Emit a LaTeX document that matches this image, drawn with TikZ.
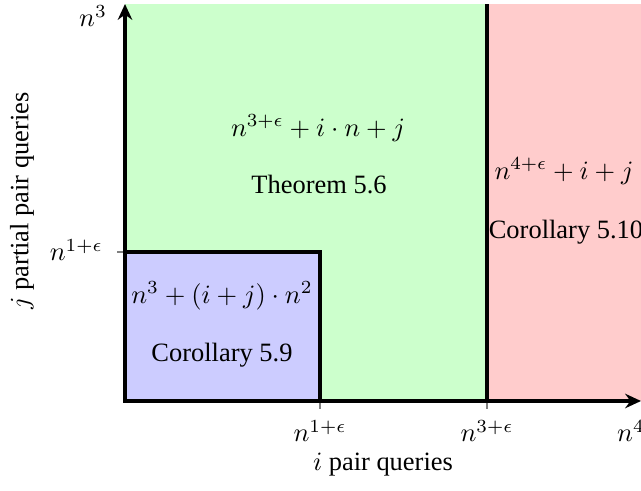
\documentclass[tikz,border=0pt]{standalone}
\usepackage{fontspec}
\setmainfont{Liberation Serif}
\usetikzlibrary{arrows.meta, positioning}

\begin{document}
\begin{tikzpicture}[
  x=0.378pt, y=0.378pt,
  axis/.style={line width=1.3pt, -{Stealth[length=6pt, width=5.5pt, inset=2pt]}},
  border/.style={line width=1.3pt},
  tickmark/.style={draw=gray, line width=0.4pt},
  reglabel/.style={inner sep=1pt, font=\rmfamily}
]
  \useasboundingbox (0,0) rectangle (641,491);
  \clip (0,0) rectangle (641,491);

  % corner points of the regions
  \coordinate (O) at (125,90);
  \coordinate (xend) at (641,90);
  \coordinate (yend) at (125,487);
  \coordinate (xa) at (320,90);
  \coordinate (xb) at (487,90);
  \coordinate (xbtop) at (487,487);
  \coordinate (ya) at (125,239);

  % regions
  \fill[green!20] (O) rectangle (xbtop);
  \fill[red!20] (xb) rectangle (660,487);
  \draw[border, fill=blue!20] (O) rectangle (320,239);
  \draw[border] (xb) -- (xbtop);

  % ticks
  \coordinate (xatick) at (320,82);
  \coordinate (xbtick) at (487,82);
  \coordinate (yatick) at (117,239);
  \draw[tickmark] (xa) -- (xatick);
  \draw[tickmark] (xb) -- (xbtick);
  \draw[tickmark] (ya) -- (yatick);

  % axes
  \draw[axis] (O) -- (xend);
  \draw[axis] (O) -- (yend);

  % axis labels
  \node (ltop) at (93,475) {$n^3$};
  \node[anchor=east] (lya) at (112,241) {$n^{1+\epsilon}$};
  \node (lxa) at (320,60) {$n^{1+\epsilon}$};
  \node (lxb) at (487,60) {$n^{3+\epsilon}$};
  \node (lxc) at (631,60) {$n^4$};
  \node (xlabel) at (383,26) {$i$ pair queries};
  \node[rotate=90] (ylabel) at (22,290) {$j$ partial pair queries};

  % region texts
  \node[reglabel] (thmcost) at (318,363) {$n^{3+\epsilon} + i \cdot n + j$};
  \node[reglabel] (thm) at (319,306) {Theorem 5.6};
  \node[reglabel] (corAcost) at (222,195) {$n^3 + (i+j) \cdot n^2$};
  \node[reglabel] (corA) at (222,136) {Corollary 5.9};
  \node[reglabel] (corBcost) at (564,320) {$n^{4+\epsilon} + i + j$};
  \node[reglabel] (corB) at (566,259) {Corollary 5.10};
\end{tikzpicture}
\end{document}
